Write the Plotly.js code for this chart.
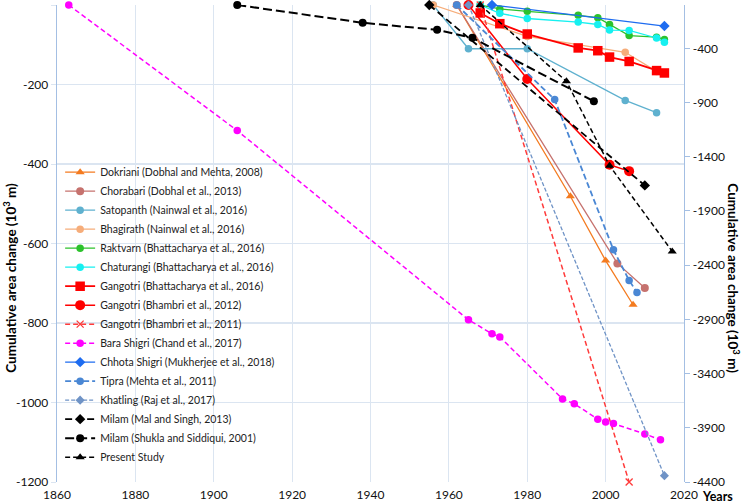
<!DOCTYPE html>
<html>
<head>
<meta charset="utf-8">
<script src="https://cdn.plot.ly/plotly-3.0.1.min.js"></script>
<style>html,body{margin:0;padding:0;background:#fff;}#chart{width:745px;height:504px;}</style>
</head>
<body>
<div id="chart"></div>
<script>
// ---- data (years, cumulative area change) ----
const dokriYears = [1962, 1991, 2000, 2007];
const dokriVals  = [0, -481, -643, -754];
const choraYears = [1962, 2003, 2010];
const choraVals  = [0, -650, -712];
const satoYears  = [1956, 1965, 1980, 2005, 2013];
const satoVals   = [0, -110, -110, -240, -271];
const bhagYears  = [1956, 1980, 2005, 2013];
const bhagVals   = [0, -79, -119, -167];
const raktYears  = [1968, 1973, 1980, 1993, 1998, 2001, 2006, 2013, 2015];
const raktVals   = [0, -10, -16, -26, -32, -49, -77, -81, -87];
const chatYears  = [1968, 1973, 1980, 1993, 1998, 2001, 2006, 2013, 2015];
const chatVals   = [0, -21, -34, -43, -49, -63, -64, -83, -94];
const gangBhattYears = [1968, 1973, 1980, 1993, 1998, 2001, 2006, 2013, 2015];
const gangBhattVals  = [-20, -47, -73, -108, -115, -131, -142, -165, -171];
const gang2012Years = [1965, 1980, 2001, 2006];
const gang2012Vals  = [0, -186, -402, -418];
const gang2011Years = [1968, 2006];
const gang2011Vals  = [0, -1200];
const baraYears = [1863, 1906, 1965, 1971, 1973, 1989, 1992, 1998, 2000, 2002, 2010, 2014];
const baraVals  = [0, -316, -792, -827, -835, -991, -1003, -1042, -1049, -1053, -1079, -1094];
const chhotaYears = [1971, 2015];
const chhotaVals  = [0, -53];
const tipraYears = [1962, 1987, 2002, 2006, 2008];
const tipraVals  = [0, -238, -616, -693, -723];
const khatYears = [1965, 2015];
const khatVals  = [0, -1184];
// secondary (right) axis series
const milamMSYears = [1955, 2010];
const milamMSVals  = [0, -1664];
const milamSSYears = [1906, 1938, 1957, 1966, 1997];
const milamSSVals  = [0, -164, -229, -303, -888];
const presentYears = [1968, 1990, 2001, 2017];
const presentVals  = [0, -704, -1482, -2273];

// ---- tick labels ----
const xTicks = [1860, 1880, 1900, 1920, 1940, 1960, 1980, 2000, 2020];
const yTicks = [0, -200, -400, -600, -800, -1000, -1200];
const yTickText = ["0", "-200", "-400", "-600", "-800", "-1000", "-1200"];
const y2Ticks = [-400, -900, -1400, -1900, -2400, -2900, -3400, -3900, -4400];
const y2TickText = ["-400", "-900", "-1400", "-1900", "-2400", "-2900", "-3400", "-3900", "-4400"];

const axisTitle = "Cumulative area change (10<sup>3</sup> m)";

function tr(name, x, y, color, symbol, opts) {
  opts = opts || {};
  return {
    type: 'scatter', mode: 'lines+markers', name: name, x: x, y: y,
    yaxis: opts.y2 ? 'y2' : 'y',
    line: {color: opts.lineColor || color, width: opts.width || 1.3, dash: opts.dash || 'solid'},
    marker: {color: color, symbol: symbol, size: opts.size || 7,
             line: {color: opts.mlc || color, width: opts.mlw || 0}},
    cliponaxis: false
  };
}

const traces = [
  tr('Dokriani (Dobhal and Mehta, 2008)', dokriYears, dokriVals, '#f47b20', 'triangle-up', {size: 8}),
  tr('Chorabari (Dobhal et al., 2013)', choraYears, choraVals, '#c6726e', 'circle', {size: 8}),
  tr('Satopanth (Nainwal et al., 2016)', satoYears, satoVals, '#5fb1cf', 'circle', {size: 7.5}),
  tr('Bhagirath (Nainwal et al., 2016)', bhagYears, bhagVals, '#f6ad7a', 'circle', {size: 7.5}),
  tr('Raktvarn (Bhattacharya et al., 2016)', raktYears, raktVals, '#2cc22c', 'circle', {size: 7.5}),
  tr('Chaturangi (Bhattacharya et al., 2016)', chatYears, chatVals, '#16f0f0', 'circle', {size: 7.5}),
  tr('Gangotri (Bhattacharya et al., 2016)', gangBhattYears, gangBhattVals, '#ff0000', 'square', {size: 9.5, width: 1.8}),
  tr('Gangotri (Bhambri et al., 2012)', gang2012Years, gang2012Vals, '#ff0000', 'circle', {size: 10, width: 1.5}),
  tr('Gangotri (Bhambri et al., 2011)', gang2011Years, gang2011Vals, '#ff3b3b', 'x-thin-open', {size: 7, dash: '5px,3px', width: 1.5, mlw: 1.3}),
  tr('Bara Shigri (Chand et al., 2017)', baraYears, baraVals, '#ff00ff', 'circle', {size: 7.5, dash: '5px,3px', width: 1.5}),
  tr('Chhota Shigri (Mukherjee et al., 2018)', chhotaYears, chhotaVals, '#1e6cf0', 'diamond', {size: 8, width: 1.3}),
  tr('Tipra (Mehta et al., 2011)', tipraYears, tipraVals, '#4a87d4', 'circle', {size: 7.5, dash: '6px,3px', width: 1.8}),
  tr('Khatling (Raj et al., 2017)', khatYears, khatVals, '#6f93c6', 'diamond', {size: 7, dash: '4px,2px', width: 1.3}),
  tr('Milam (Mal and Singh, 2013)', milamMSYears, milamMSVals, '#000000', 'diamond', {size: 8, dash: '7px,4px', width: 1.8, y2: true}),
  tr('Milam (Shukla and Siddiqui, 2001)', milamSSYears, milamSSVals, '#000000', 'circle', {size: 8, dash: '9px,4px', width: 2, y2: true}),
  tr('Present Study', presentYears, presentVals, '#000000', 'triangle-up', {size: 8, dash: '5px,3px', width: 1.5, y2: true})
];

const gridC = '#dbe5f1';
const lineC = '#a4bfe3';
const fontFam = 'Lato, "Open Sans", sans-serif';

const layout = {
  width: 745, height: 504,
  margin: {l: 57, r: 61, t: 5, b: 22, pad: 0},
  paper_bgcolor: '#ffffff', plot_bgcolor: '#ffffff',
  font: {family: fontFam, size: 11, color: '#111'},
  showlegend: true,
  legend: {
    x: 0.005, y: 0.68, xanchor: 'left', yanchor: 'top',
    bgcolor: 'rgba(0,0,0,0)', borderwidth: 0,
    font: {family: fontFam, size: 10.5, color: '#222'},
    itemwidth: 30, tracegroupgap: 0
  },
  xaxis: {
    range: [1860, 2020], tickvals: xTicks, ticktext: xTicks.map(String),
    showgrid: true, gridcolor: gridC, gridwidth: 1.2,
    showline: false, zeroline: false, ticks: '', ticklabelstandoff: 4,
    tickfont: {family: fontFam, size: 12, color: '#111'}
  },
  yaxis: {
    range: [-1200, 0], tickvals: yTicks, ticktext: yTickText,
    showgrid: true, gridcolor: gridC, gridwidth: 1.2,
    showline: true, linecolor: lineC, linewidth: 1.3,
    zeroline: false, ticks: 'outside', ticklen: 5, tickcolor: gridC,
    tickfont: {family: fontFam, size: 12, color: '#111'}
  },
  yaxis2: {
    overlaying: 'y', side: 'right', range: [-4400, 0],
    tickvals: y2Ticks, ticktext: y2TickText,
    showgrid: false, showline: true, linecolor: lineC, linewidth: 1.3,
    zeroline: false, ticks: 'outside', ticklen: 5, tickcolor: lineC,
    tickfont: {family: fontFam, size: 12, color: '#111'}
  },
  annotations: [
    {text: axisTitle, xref: 'paper', yref: 'paper', x: -0.075, y: 0.428,
     xanchor: 'center', yanchor: 'middle', textangle: -90, showarrow: false,
     font: {family: fontFam, size: 13.5, color: '#000', weight: 'bold'}},
    {text: axisTitle, xref: 'paper', yref: 'paper', x: 1.079, y: 0.428,
     xanchor: 'center', yanchor: 'middle', textangle: 90, showarrow: false,
     font: {family: fontFam, size: 13.5, color: '#000', weight: 'bold'}},
    {text: 'Years', xref: 'paper', yref: 'paper', x: 1.025, y: -0.01,
     xanchor: 'left', yanchor: 'top', showarrow: false,
     font: {family: fontFam, size: 12.5, color: '#000', weight: 'bold'}}
  ]
};

Plotly.newPlot('chart', traces, layout, {displayModeBar: false, staticPlot: true});
</script>
</body>
</html>
